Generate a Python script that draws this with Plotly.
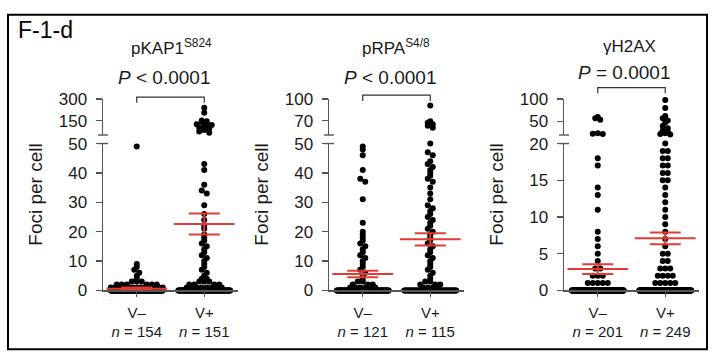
import numpy as np
import plotly.graph_objects as go

W, H = 714, 362

categories = ["V–", "V+"]
panel_titles = ["pKAP1<sup>S824</sup>", "pRPA<sup>S4/8</sup>", "γH2AX"]
p_labels = ["<i>P</i> < 0.0001", "<i>P</i> < 0.0001", "<i>P</i> = 0.0001"]
n_cells = [[154, 151], [121, 115], [201, 249]]

lower_ranges = [[0, 50], [0, 50], [0, 20]]
upper_ranges = [[50, 300], [50, 100], [20, 100]]
lower_ticks = [[0, 10, 20, 30, 40, 50], [0, 10, 20, 30, 40, 50], [0, 5, 10, 15, 20]]
upper_ticks = [[150, 300], [70, 100], [50, 100]]

# foci per cell: distinct values and number of cells with each value
kap1_neg_values = [0, 1, 2, 3, 4, 5, 6, 7, 8, 9, 49]
kap1_neg_counts = [123, 15, 6, 3, 1, 1, 1, 1, 1, 1, 1]
kap1_pos_values = [0, 1, 2, 3, 4, 5, 6, 7, 8, 9, 10, 11, 12, 13, 14, 15, 16, 17, 18, 19,
                   21, 22, 24, 26, 29, 33, 34, 36, 41, 43,
                   65, 75, 85, 95, 100, 110, 120, 125, 130, 140, 145, 150, 205, 240]
kap1_pos_counts = [95, 8, 4, 3, 2, 1, 1, 1, 1, 1, 1, 1, 1, 1, 1, 1, 1, 1, 1, 1,
                   1, 1, 1, 1, 1, 1, 1, 1, 1, 1,
                   1, 1, 1, 1, 1, 1, 1, 1, 1, 1, 1, 1, 1, 1]

rpa_neg_values = [0, 1, 2, 3, 4, 5, 6, 7, 8, 9, 10, 11, 12, 13, 14, 15, 16, 17, 18, 19, 20,
                  23, 31, 37, 38, 41, 46, 48, 49]
rpa_neg_counts = [85, 6, 3, 2, 1, 1, 1, 1, 1, 1, 1, 1, 1, 1, 1, 1, 1, 1, 1, 1, 1,
                  1, 1, 1, 1, 1, 1, 1, 1]
rpa_pos_values = [0, 1, 2, 3, 4, 5, 6, 7, 8, 9, 10, 11, 12, 13, 14, 15, 16, 17, 18, 19, 20,
                  21, 22, 23, 24, 25, 26, 27, 28, 29, 31, 33, 35, 37, 38, 39, 40, 41, 42,
                  43, 44, 46, 47, 50, 60, 63, 65, 67, 69, 91]
rpa_pos_counts = [60, 4, 3, 2, 1, 1, 1, 1, 1, 1, 1, 1, 1, 1, 1, 1, 1, 1, 1, 1, 1,
                  1, 1, 1, 1, 1, 1, 1, 1, 1, 1, 1, 1, 1, 1, 1, 1, 1, 1,
                  1, 1, 1, 1, 1, 1, 1, 1, 1, 1, 1]

h2ax_neg_values = [0, 1, 2, 3, 4, 5, 6, 7, 8, 11, 13, 14, 17, 18, 22, 23, 24, 54, 57, 60]
h2ax_neg_counts = [175, 5, 3, 2, 1, 1, 1, 1, 1, 1, 1, 1, 1, 1, 1, 1, 1, 1, 1, 1]
h2ax_pos_values = [0, 1, 2, 3, 4, 5, 6, 7, 8, 9, 10, 11, 12, 13, 14, 15, 16, 17, 18, 19, 20,
                   21, 22, 24, 27, 30, 35, 40, 48, 52, 57, 62, 80, 98]
h2ax_pos_counts = [200, 5, 4, 3, 2, 2, 1, 1, 1, 1, 1, 1, 1, 1, 1, 2, 2, 2, 2, 2, 1,
                   1, 1, 1, 1, 1, 1, 1, 1, 1, 1, 1, 1, 1]

# mean and SEM (red bars)
means = [[0.6, 22.6], [5.6, 17.4], [2.9, 7.1]]
sems = [[0.35, 3.6], [1.1, 2.1], [0.65, 0.8]]

groups = [
    [(kap1_neg_values, kap1_neg_counts), (kap1_pos_values, kap1_pos_counts)],
    [(rpa_neg_values, rpa_neg_counts), (rpa_pos_values, rpa_pos_counts)],
    [(h2ax_neg_values, h2ax_neg_counts), (h2ax_pos_values, h2ax_pos_counts)],
]

# ---------------- layout geometry (pixels) ----------------
panel_left = [103, 329, 564]
panel_w = 135
low_top, low_bot = 142, 297
up_top, up_bot = 95, 133
x_ppu = panel_w / 2.0          # x range [-0.5, 1.5]
bracket_top = [93, 91, 83]
title_x = [171, 396, 629]
title_y = 40
p_x = [164, 390, 624]
p_y = [72, 72, 67]
ytitle_x = [36, 262, 497]

FONT = "Liberation Sans, Arial, sans-serif"
AX = "#555555"
TXT = "#1a1a1a"
RED = "#e23b33"
DOT_D = 5.0
ROW_H = 4.0
HALF_W = 26.0


def expand(values, counts):
    return np.repeat(np.asarray(values, float), np.asarray(counts, int))


def swarm(vals, ppu, d=DOT_D, row=ROW_H, hw=HALF_W):
    """Prism-like scatter: bin points by pixel row, spread each row horizontally."""
    vals = np.asarray(vals, float)
    out = np.zeros(len(vals))
    if len(vals) == 0:
        return out
    bins = np.round(vals * ppu / row).astype(int)
    for b in np.unique(bins):
        idx = np.where(bins == b)[0]
        k = len(idx)
        if k == 1:
            continue
        s = min(d, 2 * hw / (k - 1))
        pos = (np.arange(k) - (k - 1) / 2.0) * s
        pos = pos[np.argsort(np.abs(pos), kind="stable")]
        order = idx[np.argsort(-vals[idx], kind="stable")]
        out[order] = pos
    return out


fig = go.Figure()
layout = {}
shapes = []
annotations = []


def fy(py):
    return (H - py) / H


for p in range(3):
    lo_id = 2 * p + 1
    up_id = 2 * p + 2
    xs_lo, ys_lo, xs_up, ys_up = [], [], [], []
    lo_ppu = (low_bot - low_top) / (lower_ranges[p][1] - lower_ranges[p][0])
    up_ppu = (up_bot - up_top) / (upper_ranges[p][1] - upper_ranges[p][0])
    for g in range(2):
        vals = expand(*groups[p][g])
        lo_vals = vals[vals <= lower_ranges[p][1]]
        up_vals = vals[vals > lower_ranges[p][1]]
        off_lo = swarm(lo_vals, lo_ppu)
        off_up = swarm(up_vals - upper_ranges[p][0], up_ppu)
        xs_lo += list(g + off_lo / x_ppu)
        ys_lo += list(lo_vals)
        xs_up += list(g + off_up / x_ppu)
        ys_up += list(up_vals)

    sfx_lo = "" if lo_id == 1 else str(lo_id)
    sfx_up = str(up_id)
    marker = dict(size=6, color="black", line=dict(width=0))
    fig.add_trace(go.Scatter(x=xs_lo, y=ys_lo, mode="markers", marker=marker,
                             xaxis="x" + sfx_lo, yaxis="y" + sfx_lo,
                             cliponaxis=False, showlegend=False, hoverinfo="y"))
    fig.add_trace(go.Scatter(x=xs_up, y=ys_up, mode="markers", marker=marker,
                             xaxis="x" + sfx_up, yaxis="y" + sfx_up,
                             cliponaxis=False, showlegend=False, hoverinfo="y"))

    # mean +/- SEM
    ex, ey = [], []
    for g in range(2):
        m, s = means[p][g], sems[p][g]
        ex += [g - 0.45, g + 0.45, None, g - 0.23, g + 0.23, None,
               g - 0.23, g + 0.23, None, g, g, None]
        ey += [m, m, None, m + s, m + s, None, m - s, m - s, None, m - s, m + s, None]
    fig.add_trace(go.Scatter(x=ex, y=ey, mode="lines", line=dict(color=RED, width=2),
                             xaxis="x" + sfx_lo, yaxis="y" + sfx_lo,
                             cliponaxis=False, showlegend=False, hoverinfo="skip"))

    xdom = [panel_left[p] / W, (panel_left[p] + panel_w) / W]
    ticktext = [f"{categories[g]}<br><i>n</i> = {n_cells[p][g]}" for g in range(2)]
    layout["xaxis" + sfx_lo] = dict(
        domain=xdom, range=[-0.5, 1.5], anchor="y" + sfx_lo,
        tickvals=[0, 1], ticktext=ticktext, showline=True, linecolor=AX, linewidth=1.4,
        ticks="outside", ticklen=5, tickwidth=1.4, tickcolor=AX, showgrid=False,
        zeroline=False, tickfont=dict(size=15, color=TXT, family=FONT),
        ticklabelstandoff=3, fixedrange=True)
    layout["xaxis" + sfx_up] = dict(domain=xdom, range=[-0.5, 1.5], anchor="y" + sfx_up,
                                    visible=False, fixedrange=True)
    common_y = dict(showline=True, linecolor=AX, linewidth=1.4, ticks="outside", ticklen=6,
                    tickwidth=1.4, tickcolor=AX, showgrid=False, zeroline=False,
                    tickfont=dict(size=17, color=TXT, family=FONT), ticklabelstandoff=5,
                    fixedrange=True)
    layout["yaxis" + sfx_lo] = dict(domain=[fy(low_bot), fy(low_top)], range=lower_ranges[p],
                                    tickvals=lower_ticks[p], anchor="x" + sfx_lo, **common_y)
    layout["yaxis" + sfx_up] = dict(domain=[fy(up_bot), fy(up_top)], range=upper_ranges[p],
                                    tickvals=upper_ticks[p], anchor="x" + sfx_up, **common_y)

    # break marks
    bw = 5.0 / panel_w
    shapes.append(dict(type="line", xref="x" + sfx_lo + " domain", yref="y" + sfx_lo + " domain",
                       x0=-bw, x1=bw, y0=1, y1=1, line=dict(color=AX, width=1.4)))
    shapes.append(dict(type="line", xref="x" + sfx_up + " domain", yref="y" + sfx_up + " domain",
                       x0=-bw, x1=bw, y0=0, y1=0, line=dict(color=AX, width=1.4)))
    # significance bracket
    bt, bb = fy(bracket_top[p]), fy(bracket_top[p] + 6)
    shapes.append(dict(type="path", xref="x" + sfx_lo, yref="paper",
                       path=f"M 0,{bb} L 0,{bt} L 1,{bt} L 1,{bb}",
                       line=dict(color="#333333", width=1.2)))

    annotations.append(dict(text=panel_titles[p], x=title_x[p] / W, y=fy(title_y), xref="paper",
                            yref="paper", showarrow=False, xanchor="center", yanchor="middle",
                            font=dict(size=17, color=TXT, family=FONT)))
    annotations.append(dict(text=p_labels[p], x=p_x[p] / W, y=fy(p_y[p]), xref="paper",
                            yref="paper", showarrow=False, xanchor="center", yanchor="middle",
                            font=dict(size=19, color=TXT, family=FONT)))
    annotations.append(dict(text="Foci per cell", x=ytitle_x[p] / W, y=fy(196), xref="paper",
                            yref="paper", showarrow=False, xanchor="center", yanchor="middle",
                            textangle=-90, font=dict(size=19, color=TXT, family=FONT)))

annotations.append(dict(text="F-1-d", x=16 / W, y=fy(22), xref="paper", yref="paper",
                        showarrow=False, xanchor="left", yanchor="middle",
                        font=dict(size=23, color="black", family=FONT)))

shapes.append(dict(type="rect", xref="paper", yref="paper", x0=8 / W, x1=707 / W,
                   y0=fy(359), y1=fy(6), line=dict(color="black", width=2)))

layout.update(dict(width=W, height=H, margin=dict(l=0, r=0, t=0, b=0),
                   paper_bgcolor="white", plot_bgcolor="white", showlegend=False,
                   shapes=shapes, annotations=annotations,
                   font=dict(family=FONT, color=TXT)))
fig.update_layout(**layout)

fig.write_html("out.html", config={"displayModeBar": False, "staticPlot": True},
               post_script="document.body.style.margin='0';document.body.style.overflow='hidden';")
